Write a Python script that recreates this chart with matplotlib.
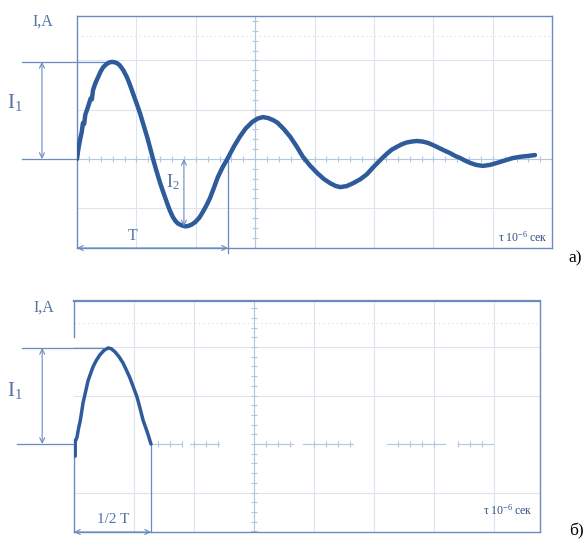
import numpy as np
import matplotlib
matplotlib.use('Agg')
import matplotlib.pyplot as plt

plt.rcParams['font.family'] = ['Liberation Serif', 'DejaVu Serif']
plt.rcParams['mathtext.default'] = 'regular'

# ---------------- data (time and current in screen divisions) ----------------
# Panel a: damped oscillation
t_a = [0.00, 0.02, 0.05, 0.08, 0.10, 0.12, 0.14, 0.185, 0.23, 0.25, 0.27, 0.31,
       0.355, 0.40, 0.44, 0.50, 0.55, 0.59, 0.64, 0.68, 0.72, 0.78, 0.84, 0.89,
       0.94, 1.00, 1.06, 1.12, 1.18, 1.23, 1.28, 1.34, 1.40, 1.46, 1.515, 1.565,
       1.615, 1.66, 1.70, 1.77, 1.82, 1.87, 1.93, 1.99, 2.06, 2.12, 2.18, 2.24,
       2.30, 2.37, 2.45, 2.54, 2.64, 2.74, 2.84, 2.95, 3.04, 3.13, 3.22, 3.30,
       3.37, 3.48, 3.59, 3.70, 3.80, 3.92, 4.04, 4.15, 4.26, 4.35, 4.43, 4.54,
       4.65, 4.77, 4.88, 4.97, 5.05, 5.14, 5.22, 5.30, 5.39, 5.47, 5.55, 5.64,
       5.72, 5.81, 5.90, 5.98, 6.06, 6.17, 6.28, 6.37, 6.45, 6.53, 6.62, 6.72,
       6.835, 6.95, 7.07, 7.20, 7.34, 7.46, 7.58, 7.71]
i_a = [0.00, 0.18, 0.385, 0.55, 0.73, 0.71, 0.90, 1.055, 1.23, 1.21, 1.40, 1.54,
       1.66, 1.78, 1.86, 1.93, 1.96, 1.97, 1.96, 1.94, 1.90, 1.80, 1.66, 1.51,
       1.34, 1.14, 0.93, 0.69, 0.45, 0.23, 0.00, -0.25, -0.49, -0.70, -0.89, -1.05,
       -1.18, -1.26, -1.31, -1.35, -1.365, -1.36, -1.33, -1.28, -1.19, -1.07, -0.94, -0.79,
       -0.60, -0.37, -0.17, 0.02, 0.25, 0.45, 0.62, 0.75, 0.82, 0.85, 0.83, 0.79,
       0.74, 0.61, 0.45, 0.25, 0.05, -0.13, -0.28, -0.40, -0.49, -0.545, -0.57, -0.55,
       -0.49, -0.41, -0.31, -0.19, -0.09, 0.02, 0.11, 0.19, 0.25, 0.30, 0.335, 0.355,
       0.365, 0.355, 0.33, 0.29, 0.245, 0.18, 0.12, 0.06, 0.02, -0.03, -0.08, -0.12,
       -0.14, -0.12, -0.08, -0.03, 0.02, 0.045, 0.06, 0.08]
period_a = 2.54

# Panel b: first half-wave only
t_b = [0.02, 0.02, 0.05, 0.08, 0.10, 0.12, 0.15, 0.19, 0.233, 0.27, 0.317, 0.37,
       0.433, 0.50, 0.567, 0.62, 0.683, 0.75, 0.817, 0.875, 0.933, 0.99, 1.05, 1.10,
       1.15, 1.22, 1.283]
i_b = [-0.25, 0.05, 0.14, 0.35, 0.45, 0.60, 0.845, 1.06, 1.30, 1.43, 1.59, 1.72,
       1.84, 1.93, 1.98, 1.965, 1.90, 1.80, 1.67, 1.52, 1.36, 1.17, 0.97, 0.74,
       0.495, 0.25, 0.0]

# zero-axis segments visible in panel b (divisions)
zero_segments_b = [(1.28, 1.80), (1.93, 2.42), (2.98, 3.65), (3.82, 4.65),
                   (5.22, 6.18), (6.40, 6.98)]

# ---------------- style ----------------
W, H = 585, 552
CURVE = '#2f5b9b'
FRAME = '#6a8bbf'
TEXT = '#5272a8'
GRID = '#dbe5f2'
AXIS = '#b3c6e1'

fig = plt.figure(figsize=(W / 100, H / 100), dpi=100)


def rect(l, r, t, b):
    return [l / W, 1 - b / H, (r - l) / W, (b - t) / H]


def graticule(ax, xmax, ymin, ymax, zero_full=True, segs=None):
    for gx in range(1, int(xmax) + 1):
        if gx < xmax - 0.05:
            ax.axvline(gx, color=GRID, lw=0.8, zorder=0)
    for gy in (-1, 1, 2):
        ax.axhline(gy, color=GRID, lw=0.8, zorder=0)
    ax.axhline(2.5, color='#cfdbec', lw=0.8, ls=(0, (1, 3)), zorder=0)
    # centre vertical with ticks
    ax.axvline(3, color=AXIS, lw=0.8, zorder=0)
    yt = np.arange(np.ceil(ymin * 5) / 5, ymax, 0.2)
    ax.plot(np.full_like(yt, 3.0), yt, ls='none', marker='_', ms=4,
            mew=0.8, color=AXIS, zorder=0)
    # zero axis with ticks
    if zero_full:
        ax.axhline(0, color=AXIS, lw=0.8, zorder=0)
        xt = np.arange(0.2, xmax, 0.2)
        ax.plot(xt, np.zeros_like(xt), ls='none', marker='|', ms=4,
                mew=0.8, color=AXIS, zorder=0)
    else:
        for a, b in segs:
            ax.plot([a, b], [0, 0], color=AXIS, lw=0.8, zorder=0)
            xt = np.arange(np.ceil(a * 5) / 5, b, 0.2)
            ax.plot(xt, np.zeros_like(xt), ls='none', marker='|', ms=4,
                    mew=0.8, color=AXIS, zorder=0)


def arrow(ax, p1, p2):
    ax.annotate('', xy=p2, xytext=p1,
                arrowprops=dict(arrowstyle='<->', color=FRAME, lw=0.8,
                                shrinkA=0, shrinkB=0, mutation_scale=9),
                annotation_clip=False)


# ================= panel a =================
ax = fig.add_axes(rect(77, 552, 16, 248))
xmax_a = 475 / 59.4
ylo_a, yhi_a = (159 - 248) / 49.3, (159 - 16) / 49.3
ax.set_xlim(0, xmax_a)
ax.set_ylim(ylo_a, yhi_a)
ax.set_xticks([]); ax.set_yticks([])
for s in ax.spines.values():
    s.set_color(FRAME); s.set_linewidth(1.0)
graticule(ax, xmax_a, ylo_a, yhi_a)
ax.plot(t_a, i_a, color=CURVE, lw=3.2, solid_joinstyle='round',
        solid_capstyle='round', zorder=3)

i1 = max(i_a)
t1 = t_a[int(np.argmax(i_a))]
i2 = min(i_a)
t2 = t_a[int(np.argmin(i_a))]
ax.plot([-0.93, t1 - 0.1], [i1, i1], color=FRAME, lw=0.9, clip_on=False)
ax.plot([-0.93, 0], [0, 0], color=FRAME, lw=0.9, clip_on=False)
arrow(ax, (-0.59, 0), (-0.59, i1))
ax.text(-1.04, 1.14, r'I$_1$', color=TEXT, fontsize=15, ha='center', va='center')
arrow(ax, (t2 - 0.02, 0), (t2 - 0.02, i2))
ax.text(t2 - 0.2, -0.47, r'I$_2$', color=TEXT, fontsize=13, ha='center', va='center')
ax.plot([period_a, period_a], [0, ylo_a - 0.1], color=FRAME, lw=0.9, clip_on=False)
arrow(ax, (0, ylo_a), (period_a, ylo_a))
ax.text(0.94, ylo_a + 0.24, 'T', color=TEXT, fontsize=11.5, ha='center', va='center')
ax.text(0.99, 0.047, r'τ 10$^{-6}$ сек', transform=ax.transAxes, color='#2e4f8a',
        fontsize=8.5, ha='right', va='center')
ax.text(-0.093, 0.974, 'I,A', transform=ax.transAxes, color=TEXT, fontsize=11.5,
        ha='left', va='center')

# ================= panel b =================
bx = fig.add_axes(rect(74, 540, 301, 532))
xmax_b = 466 / 60
ylo_b, yhi_b = (444 - 532) / 48.5, (444 - 301) / 48.5
bx.set_xlim(0, xmax_b)
bx.set_ylim(ylo_b, yhi_b)
bx.set_xticks([]); bx.set_yticks([])
for k, s in bx.spines.items():
    s.set_color(FRAME); s.set_linewidth(1.0)
bx.spines['left'].set_visible(False)
bx.spines['top'].set_linewidth(1.6)
graticule(bx, xmax_b, ylo_b, yhi_b, zero_full=False, segs=zero_segments_b)
bx.plot([0, 0], [2.2, yhi_b], color=FRAME, lw=1.0, clip_on=False)
bx.plot([0, 0], [0.1, ylo_b], color=FRAME, lw=1.0, clip_on=False)
bx.plot(t_b, i_b, color=CURVE, lw=2.5, solid_joinstyle='round',
        solid_capstyle='round', zorder=3)

i1b = max(i_b)
t1b = t_b[int(np.argmax(i_b))]
half_T = t_b[-1]
bx.plot([-0.87, t1b - 0.09], [i1b, i1b], color=FRAME, lw=0.9, clip_on=False)
bx.plot([-0.95, 0], [0, 0], color=FRAME, lw=0.9, clip_on=False)
arrow(bx, (-0.53, 0), (-0.53, i1b))
bx.text(-0.98, 1.11, r'I$_1$', color=TEXT, fontsize=15, ha='center', va='center')
bx.plot([half_T, half_T], [0, ylo_b], color=FRAME, lw=0.9, clip_on=False)
arrow(bx, (0, ylo_b), (half_T, ylo_b))
bx.text(0.65, ylo_b + 0.25, '1/2 T', color=TEXT, fontsize=11, ha='center', va='center')
bx.text(0.985, 0.095, r'τ 10$^{-6}$ сек', transform=bx.transAxes, color='#2e4f8a',
        fontsize=8.5, ha='right', va='center')
bx.text(-0.088, 0.97, 'I,A', transform=bx.transAxes, color=TEXT, fontsize=11.5,
        ha='left', va='center')

fig.text(575 / W, 1 - 258 / H, 'а)', fontsize=12.5, color='black', ha='center', va='center')
fig.text(576 / W, 1 - 531 / H, 'б)', fontsize=12.5, color='black', ha='center', va='center')

fig.savefig('out.png', dpi=100, facecolor='white')
